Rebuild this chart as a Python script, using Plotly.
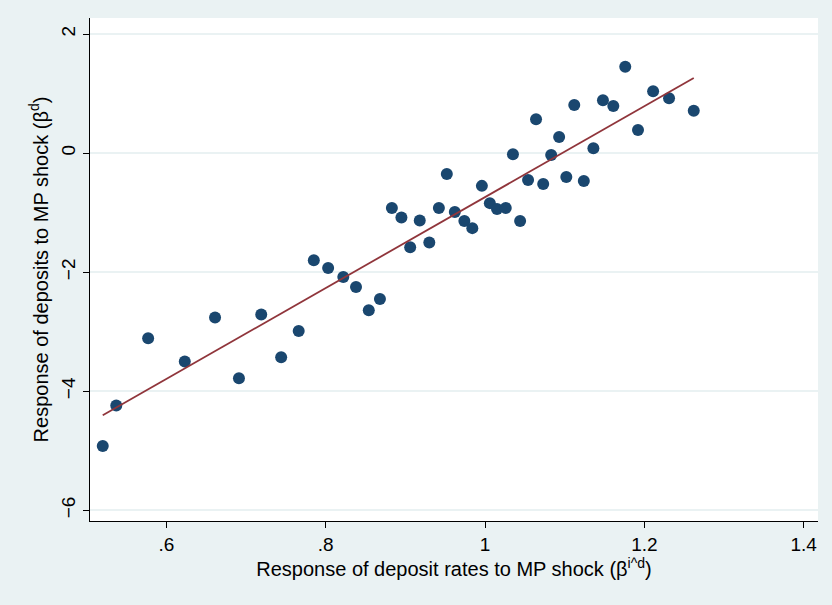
import numpy as np
import plotly.graph_objects as go

x_vals = [0.520, 0.537, 0.577, 0.623, 0.661, 0.691, 0.719, 0.744, 0.766, 0.785,
          0.803, 0.822, 0.838, 0.854, 0.868, 0.883, 0.895, 0.906, 0.918, 0.930,
          0.942, 0.952, 0.962, 0.974, 0.984, 0.996, 1.006, 1.015, 1.026, 1.035,
          1.044, 1.054, 1.064, 1.073, 1.083, 1.093, 1.102, 1.112, 1.124, 1.136,
          1.148, 1.161, 1.176, 1.192, 1.211, 1.231, 1.262]
y_vals = [-4.92, -4.24, -3.11, -3.50, -2.76, -3.78, -2.71, -3.43, -2.99, -1.80,
          -1.93, -2.08, -2.25, -2.64, -2.45, -0.92, -1.08, -1.58, -1.13, -1.50,
          -0.92, -0.35, -0.99, -1.14, -1.26, -0.55, -0.84, -0.94, -0.92, -0.02,
          -1.14, -0.45, 0.57, -0.52, -0.03, 0.27, -0.40, 0.81, -0.47, 0.08,
          0.89, 0.79, 1.45, 0.39, 1.04, 0.92, 0.71]

x_tickvals = [0.6, 0.8, 1.0, 1.2, 1.4]
x_ticktext = [".6", ".8", "1", "1.2", "1.4"]
y_tickvals = [-6, -4, -2, 0, 2]
y_ticktext = ["\u22126", "\u22124", "\u22122", "0", "2"]

slope, intercept = np.polyfit(x_vals, y_vals, 1)
xf = [min(x_vals), max(x_vals)]
yf = [intercept + slope * v for v in xf]

fig = go.Figure()
fig.add_trace(go.Scatter(x=x_vals, y=y_vals, mode="markers",
                         marker=dict(color="#1a476f", size=12, line=dict(width=0)),
                         showlegend=False))
fig.add_trace(go.Scatter(x=xf, y=yf, mode="lines",
                         line=dict(color="#90353b", width=1.8),
                         showlegend=False))

font = "Liberation Sans, Arial, Helvetica, sans-serif"
fig.update_layout(
    width=832, height=605,
    margin=dict(l=90, r=14, t=18, b=84),
    paper_bgcolor="#eaf2f3",
    plot_bgcolor="white",
    font=dict(family=font, size=20, color="black"),
    xaxis=dict(range=[0.504, 1.418], tickvals=x_tickvals, ticktext=x_ticktext,
               showgrid=False, zeroline=False, showline=True, linecolor="black",
               linewidth=1, ticks="outside", ticklen=6, tickcolor="black",
               tickfont=dict(size=19),
               title=dict(text="Response of deposit rates to MP shock (\u03b2<sup>i^d</sup>)",
                          font=dict(size=20), standoff=2)),
    yaxis=dict(range=[-6.18, 2.27], tickvals=y_tickvals, ticktext=y_ticktext,
               showgrid=True, gridcolor="#eaf2f3", gridwidth=1.5,
               zeroline=False, showline=True, linecolor="black",
               linewidth=1, ticks="outside", ticklen=6, tickcolor="black",
               tickangle=-90, tickfont=dict(size=19),
               title=dict(text="Response of deposits to MP shock (\u03b2<sup>d</sup>)",
                          font=dict(size=20), standoff=4)),
)

fig.write_html("out.html")
